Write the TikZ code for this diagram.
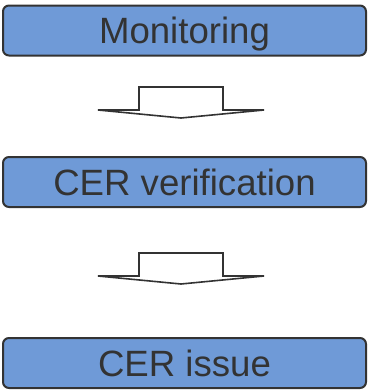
\documentclass[tikz,border=0pt]{standalone}
\usepackage{fontspec}
\setmainfont{Liberation Sans}
\definecolor{boxfill}{RGB}{111,154,215}
\definecolor{edge}{RGB}{51,51,51}
\begin{document}
\begin{tikzpicture}[x=1pt,y=-1pt,
  stage/.style={draw=edge, line width=2pt, fill=boxfill, rounded corners=6pt,
    minimum width=363pt, minimum height=50pt, inner sep=0pt, text=edge,
    font=\fontsize{36.6}{40}\selectfont, text height=26pt, text depth=0pt},
  blockarrow/.style={draw=edge, line width=1.6pt, fill=white, line join=miter}]
\useasboundingbox (0,0) rectangle (368,391);
\node[stage] (mon) at (184.5,30.5) {Monitoring};
\node[stage] (ver) at (184.5,182) {CER verification};
\node[stage] (iss) at (184.5,363) {CER issue};
\coordinate (a1) at (181,87);
\coordinate (a2) at (181,253);
\foreach \c in {a1,a2}{
  \draw[blockarrow] (\c) ++(-83,23) -- ++(41,0) -- ++(0,-23) -- ++(84,0) -- ++(0,23)
    -- ++(41,0) -- ++(-83,8) -- cycle;
}
\end{tikzpicture}
\end{document}
